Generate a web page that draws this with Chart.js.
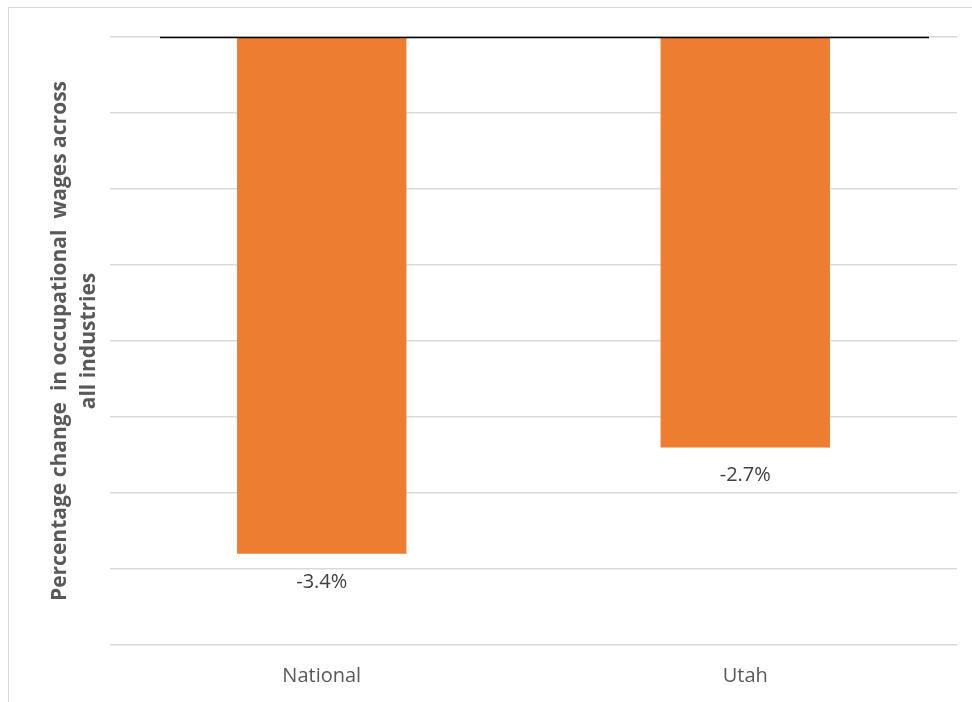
<!DOCTYPE html>
<html>
<head>
<meta charset="utf-8">
<script src="https://cdn.jsdelivr.net/npm/chart.js@4.4.1/dist/chart.umd.min.js"></script>
<style>
  html, body { margin: 0; padding: 0; background: #fff; overflow: hidden; }
  #frame { position: absolute; left: 8px; top: 7px; width: 1000px; height: 760px; border: 1.5px solid #d9d9d9; }
  #wrap { position: absolute; left: 0; top: 0; width: 972px; height: 702px; }
</style>
</head>
<body>
<div id="frame"></div>
<div id="wrap"><canvas id="grafico"></canvas></div>
<script>
const regioes = ["National", "Utah"];
const variacao = [-3.4, -2.7];
const eixoMin = -4;
const eixoMax = 0;
const passo = 0.5;
const tituloY = ["Percentage change  in occupational  wages across", "all industries"];

const fonte = "'Open Sans', 'Liberation Sans', sans-serif";

// rótulos de valor abaixo de cada barra
const rotulosPlugin = {
  id: "rotulos",
  afterDatasetsDraw(chart) {
    const ctx = chart.ctx;
    const meta = chart.getDatasetMeta(0);
    ctx.save();
    ctx.font = "20px " + fonte;
    ctx.fillStyle = "#404040";
    ctx.textAlign = "center";
    ctx.textBaseline = "middle";
    meta.data.forEach((bar, i) => {
      ctx.fillText(variacao[i].toFixed(1) + "%", bar.x, bar.y + 28);
    });
    ctx.restore();
  }
};

// linha do zero em preto
const linhaZeroPlugin = {
  id: "linhaZero",
  afterDatasetsDraw(chart) {
    const { ctx, chartArea, scales } = chart;
    const y = Math.round(scales.y.getPixelForValue(0)) + 0.5;
    ctx.save();
    ctx.strokeStyle = "#000";
    ctx.lineWidth = 1.5;
    ctx.beginPath();
    ctx.moveTo(chartArea.left + 50, y);
    ctx.lineTo(chartArea.right - 28, y);
    ctx.stroke();
    ctx.restore();
  }
};

new Chart(document.getElementById("grafico"), {
  type: "bar",
  data: {
    labels: regioes,
    datasets: [{
      data: variacao,
      backgroundColor: "#ED7D31",
      barPercentage: 0.4,
      categoryPercentage: 1.0
    }]
  },
  options: {
    responsive: true,
    maintainAspectRatio: false,
    animation: false,
    layout: { padding: { left: 0, top: 37, right: 15, bottom: 0 } },
    plugins: {
      legend: { display: false },
      tooltip: { enabled: false }
    },
    scales: {
      x: {
        grid: { display: false, drawTicks: false },
        border: { display: false },
        ticks: { color: "#595959", font: { family: fonte, size: 20 }, padding: 19 },
        afterFit(scale) { scale.height = 57; }
      },
      y: {
        min: eixoMin,
        max: eixoMax,
        grid: { color: "#d9d9d9", lineWidth: 1.5, drawTicks: false },
        border: { display: false },
        ticks: { display: false, stepSize: passo },
        title: {
          display: true,
          text: tituloY,
          color: "#595959",
          font: { family: fonte, size: 21, weight: "bold", lineHeight: 1.4 },
          padding: { top: 45, bottom: 0 }
        },
        afterFit(scale) { scale.width = 110; }
      }
    }
  },
  plugins: [rotulosPlugin, linhaZeroPlugin]
});
</script>
</body>
</html>
